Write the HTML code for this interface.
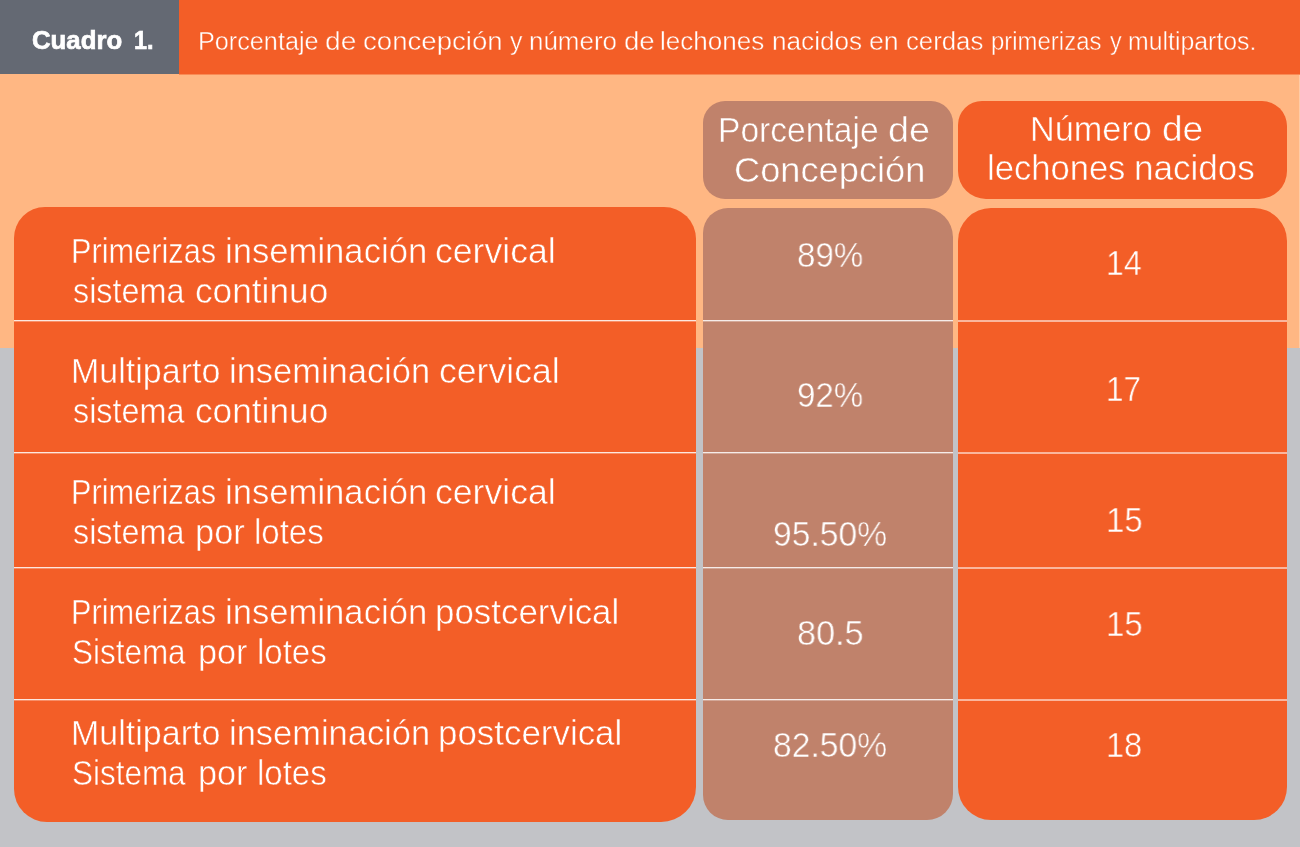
<!DOCTYPE html>
<html lang="es">
<head>
<meta charset="utf-8">
<title>Cuadro 1</title>
<style>
  html, body { margin: 0; padding: 0; }
  body {
    width: 1300px; height: 847px; overflow: hidden; position: relative;
    background: #C2C3C7;
    font-family: "Liberation Sans", sans-serif;
    color: #fff;
  }
  .abs { position: absolute; }
  .peach { left: 0; top: 74px; width: 1300px; height: 274px; background: #FFB783; }
  .hdr-gray { left: 0; top: 0; width: 179px; height: 74px; background: #646973; }
  .hdr-orange { left: 179px; top: 0; width: 1121px; height: 74px; background: #F35E27; border-bottom: 1px solid #F98B55; }
  .edge { left: 1299px; top: 75px; width: 1px; height: 273px; background: #FFCBA6; }

  .panel-left { left: 14px; top: 207px; width: 682px; height: 615px; background: #F35E27; border-radius: 31px 32px 35px 33px; }
  .col-mid   { left: 703px; top: 208px; width: 250px; height: 612px; background: #C0826B; border-radius: 25px 29px 26px 25px; }
  .col-right { left: 958px; top: 208px; width: 329px; height: 612px; background: #F35E27; border-radius: 33px; }
  .pill-mid   { left: 703px; top: 101px; width: 250px; height: 98px; background: #C0826B; border-radius: 22px 22px 23px 22px; }
  .pill-right { left: 958px; top: 101px; width: 329px; height: 98px; background: #F35E27; border-radius: 24px 25px 28px 28px; }

  .ln { height: 2px; background: linear-gradient(to bottom, rgba(255,255,255,0.85) 0, rgba(255,255,255,0.85) 1px, rgba(255,255,255,0.3) 1px, rgba(255,255,255,0.3) 2px); }
  .ln.a { left: 14px; width: 682px; }
  .ln.b { left: 703px; width: 250px; }
  .ln.c { left: 958px; width: 329px; background: rgba(255,255,255,0.55); }

  .line { will-change: transform; position: absolute; left: 0; height: 40px; line-height: 40px; white-space: nowrap; }
  .t {
    position: absolute; top: 0; white-space: nowrap;
    transform-origin: 0 50%; transform: scaleX(var(--k, 1));
  }
  .on-orange { -webkit-text-stroke: 0.5px #F35E27; }
  .on-tan { -webkit-text-stroke: 0.5px #C0826B; }
  .on-gray { -webkit-text-stroke: 0.7px #fff; }
  .s25 { -webkit-text-stroke-width: 0.4px; }
</style>
</head>
<body>
  <div class="abs peach"></div>
  <div class="abs hdr-gray"></div>
  <div class="abs hdr-orange"></div>
  <div class="abs edge"></div>

  <div class="abs pill-mid"></div>
  <div class="abs pill-right"></div>
  <div class="abs panel-left"></div>
  <div class="abs col-mid"></div>
  <div class="abs col-right"></div>

  <div class="abs ln a" style="top:320px"></div>
  <div class="abs ln b" style="top:320px"></div>
  <div class="abs ln c" style="top:320px"></div>
  <div class="abs ln a" style="top:452px"></div>
  <div class="abs ln b" style="top:452px"></div>
  <div class="abs ln c" style="top:452px"></div>
  <div class="abs ln a" style="top:567px"></div>
  <div class="abs ln b" style="top:567px"></div>
  <div class="abs ln c" style="top:567px"></div>
  <div class="abs ln a" style="top:699px"></div>
  <div class="abs ln b" style="top:699px"></div>
  <div class="abs ln c" style="top:699px"></div>

  <div class="line on-gray" style="top:20px;font-size:25.5px;font-weight:bold;"><span class="t" id="cuadro_0" style="left:32.47px;--k:1.0099">Cuadro</span> <span class="t" id="cuadro_1" style="left:134.09px;--k:0.9155">1.</span></div>
  <div class="line on-orange s25" style="top:21px;font-size:25.5px;"><span class="t" id="sub_0" style="left:197.88px;--k:0.9889">Porcentaje</span> <span class="t" id="sub_1" style="left:325.19px;--k:1.1049">de</span> <span class="t" id="sub_2" style="left:363.46px;--k:1.0823">concepción</span> <span class="t" id="sub_3" style="left:509.69px;--k:0.9769">y</span> <span class="t" id="sub_4" style="left:528.97px;--k:1.0172">número</span> <span class="t" id="sub_5" style="left:623.53px;--k:1.0825">de</span> <span class="t" id="sub_6" style="left:660.26px;--k:1.0218">lechones</span> <span class="t" id="sub_7" style="left:771.78px;--k:1.0260">nacidos</span> <span class="t" id="sub_8" style="left:868.75px;--k:1.0467">en</span> <span class="t" id="sub_9" style="left:905.61px;--k:1.0097">cerdas</span> <span class="t" id="sub_10" style="left:990.65px;--k:0.9389">primerizas</span> <span class="t" id="sub_11" style="left:1109.83px;--k:0.9154">y</span> <span class="t" id="sub_12" style="left:1128.26px;--k:0.9745">multipartos.</span></div>
  <div class="line on-tan" style="top:110px;font-size:35px;"><span class="t" id="h1a_0" style="left:717.91px;--k:0.9597">Porcentaje</span> <span class="t" id="h1a_1" style="left:888.20px;--k:1.0786">de</span></div>
  <div class="line on-tan" style="top:150px;font-size:35px;"><span class="t" id="h1b_0" style="left:733.69px;--k:1.0352">Concepción</span></div>
  <div class="line on-orange" style="top:109px;font-size:35px;"><span class="t" id="h2a_0" style="left:1030.26px;--k:0.9781">Número</span> <span class="t" id="h2a_1" style="left:1161.78px;--k:1.0575">de</span></div>
  <div class="line on-orange" style="top:148px;font-size:35px;"><span class="t" id="h2b_0" style="left:987.09px;--k:0.9878">lechones</span> <span class="t" id="h2b_1" style="left:1134.25px;--k:1.0022">nacidos</span></div>
  <div class="line on-orange" style="top:231px;font-size:35px;"><span class="t" id="r1a_0" style="left:71.25px;--k:0.8785">Primerizas</span> <span class="t" id="r1a_1" style="left:225.33px;--k:0.9898">inseminación</span> <span class="t" id="r1a_2" style="left:435.22px;--k:1.0173">cervical</span></div>
  <div class="line on-orange" style="top:271px;font-size:35px;"><span class="t" id="r1b_0" style="left:72.55px;--k:0.9243">sistema</span> <span class="t" id="r1b_1" style="left:195.32px;--k:1.0070">continuo</span></div>
  <div class="line on-orange" style="top:351px;font-size:35px;"><span class="t" id="r2a_0" style="left:71.48px;--k:0.9719">Multiparto</span> <span class="t" id="r2a_1" style="left:228.92px;--k:0.9844">inseminación</span> <span class="t" id="r2a_2" style="left:439.14px;--k:1.0169">cervical</span></div>
  <div class="line on-orange" style="top:391px;font-size:35px;"><span class="t" id="r2b_0" style="left:72.55px;--k:0.9243">sistema</span> <span class="t" id="r2b_1" style="left:195.32px;--k:1.0070">continuo</span></div>
  <div class="line on-orange" style="top:472px;font-size:35px;"><span class="t" id="r3a_0" style="left:71.25px;--k:0.8785">Primerizas</span> <span class="t" id="r3a_1" style="left:225.33px;--k:0.9898">inseminación</span> <span class="t" id="r3a_2" style="left:435.22px;--k:1.0173">cervical</span></div>
  <div class="line on-orange" style="top:512px;font-size:35px;"><span class="t" id="r3b_0" style="left:72.55px;--k:0.9243">sistema</span> <span class="t" id="r3b_1" style="left:195.20px;--k:0.9840">por</span> <span class="t" id="r3b_2" style="left:254.22px;--k:0.9434">lotes</span></div>
  <div class="line on-orange" style="top:592px;font-size:35px;"><span class="t" id="r4a_0" style="left:71.25px;--k:0.8785">Primerizas</span> <span class="t" id="r4a_1" style="left:225.33px;--k:0.9898">inseminación</span> <span class="t" id="r4a_2" style="left:435.20px;--k:0.9971">postcervical</span></div>
  <div class="line on-orange" style="top:632px;font-size:35px;"><span class="t" id="r4b_0" style="left:72.37px;--k:0.8982">Sistema</span> <span class="t" id="r4b_1" style="left:198.35px;--k:0.9771">por</span> <span class="t" id="r4b_2" style="left:257.14px;--k:0.9429">lotes</span></div>
  <div class="line on-orange" style="top:713px;font-size:35px;"><span class="t" id="r5a_0" style="left:71.48px;--k:0.9719">Multiparto</span> <span class="t" id="r5a_1" style="left:228.92px;--k:0.9844">inseminación</span> <span class="t" id="r5a_2" style="left:438.12px;--k:0.9971">postcervical</span></div>
  <div class="line on-orange" style="top:753px;font-size:35px;"><span class="t" id="r5b_0" style="left:72.37px;--k:0.8982">Sistema</span> <span class="t" id="r5b_1" style="left:198.35px;--k:0.9771">por</span> <span class="t" id="r5b_2" style="left:257.14px;--k:0.9429">lotes</span></div>
  <div class="line on-tan" style="top:235px;font-size:35.5px;"><span class="t" id="p1_0" style="left:797.22px;--k:0.9326">89%</span></div>
  <div class="line on-tan" style="top:375px;font-size:35.5px;"><span class="t" id="p2_0" style="left:797.24px;--k:0.9320">92%</span></div>
  <div class="line on-tan" style="top:514px;font-size:35.5px;"><span class="t" id="p3_0" style="left:772.56px;--k:0.9482">95.50%</span></div>
  <div class="line on-tan" style="top:613px;font-size:35.5px;"><span class="t" id="p4_0" style="left:796.83px;--k:0.9646">80.5</span></div>
  <div class="line on-tan" style="top:725px;font-size:35.5px;"><span class="t" id="p5_0" style="left:772.55px;--k:0.9482">82.50%</span></div>
  <div class="line on-orange" style="top:243px;font-size:35.5px;"><span class="t" id="n1_0" style="left:1106.14px;--k:0.9040">14</span></div>
  <div class="line on-orange" style="top:369px;font-size:35.5px;"><span class="t" id="n2_0" style="left:1106.26px;--k:0.8871">17</span></div>
  <div class="line on-orange" style="top:500px;font-size:35.5px;"><span class="t" id="n3_0" style="left:1106.33px;--k:0.9294">15</span></div>
  <div class="line on-orange" style="top:604px;font-size:35.5px;"><span class="t" id="n4_0" style="left:1106.33px;--k:0.9294">15</span></div>
  <div class="line on-orange" style="top:725px;font-size:35.5px;"><span class="t" id="n5_0" style="left:1105.58px;--k:0.9160">18</span></div>
</body>
</html>
